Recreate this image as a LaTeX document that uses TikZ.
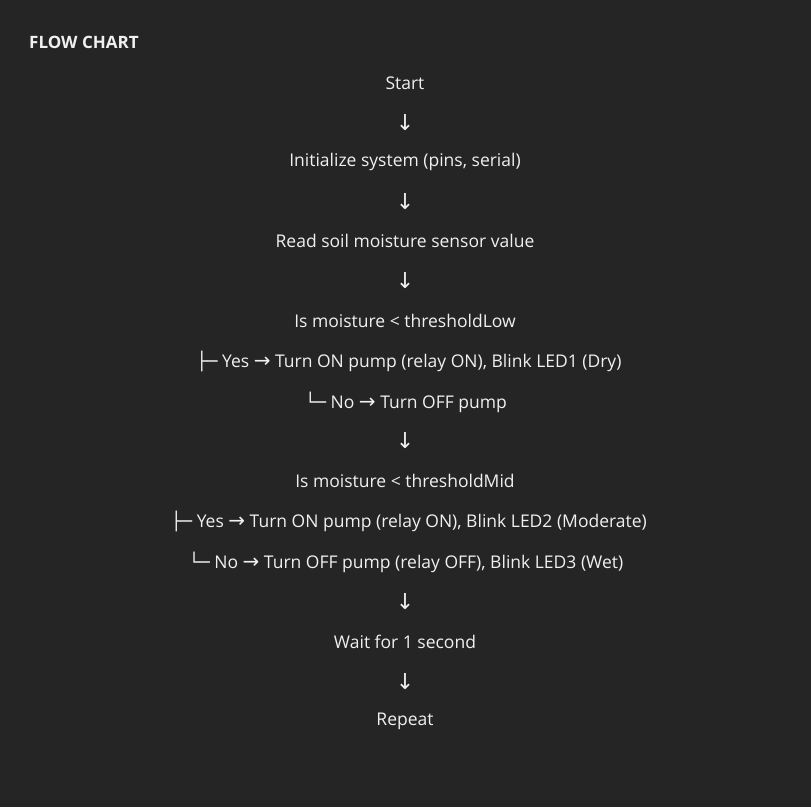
\documentclass[tikz,border=0pt]{standalone}
\usepackage{fontspec}
\setmainfont{Open Sans}
\newfontfamily\symfont{DejaVu Sans}
\definecolor{bg}{RGB}{37,37,38}
\definecolor{fg}{RGB}{240,240,240}
\newcommand{\dnarr}{{\symfont\fontsize{22}{22}\selectfont\char"2193}}
\newcommand{\rtarr}{{\symfont\fontsize{20}{20}\selectfont\char"2192}}
\newcommand{\teebr}{{\symfont\char"251C\char"2500}}
\newcommand{\lastbr}{{\symfont\char"2514\char"2500}}
\begin{document}
\begin{tikzpicture}[x=1pt,y=-1pt,
  line/.style={text=fg,font=\fontsize{17.5}{20}\selectfont,inner sep=0pt,anchor=center,yshift=-2pt},
  title/.style={text=fg,font=\fontsize{17}{20}\selectfont\bfseries,inner sep=0pt,anchor=west}]
\fill[bg] (0,0) rectangle (811,807);
\useasboundingbox (0,0) rectangle (811,807);
\node[title] (t) at (29,42) {FLOW CHART};
\node[line] (n1) at (405,81) {Start};
\node[line] (a1) at (405,121) {\dnarr};
\node[line] (n2) at (405,160) {Initialize system (pins, serial)};
\node[line] (a2) at (405,200) {\dnarr};
\node[line] (n3) at (405,239) {Read soil moisture sensor value};
\node[line] (a3) at (405,279) {\dnarr};
\node[line] (n4) at (405,319) {Is moisture < thresholdLow};
\node[line] (n5) at (409,359) {\teebr{} Yes \rtarr{} Turn ON pump (relay ON), Blink LED1 (Dry)};
\node[line] (n6) at (406,400) {\lastbr{} No \rtarr{} Turn OFF pump};
\node[line] (a4) at (405,439) {\dnarr};
\node[line] (n7) at (405,479) {Is moisture < thresholdMid};
\node[line] (n8) at (409,519) {\teebr{} Yes \rtarr{} Turn ON pump (relay ON), Blink LED2 (Moderate)};
\node[line] (n9) at (406,560) {\lastbr{} No \rtarr{} Turn OFF pump (relay OFF), Blink LED3 (Wet)};
\node[line] (a5) at (405,600) {\dnarr};
\node[line] (n10) at (405,640) {Wait for 1 second};
\node[line] (a6) at (405,680) {\dnarr};
\node[line] (n11) at (405,719) {Repeat};
\end{tikzpicture}
\end{document}
